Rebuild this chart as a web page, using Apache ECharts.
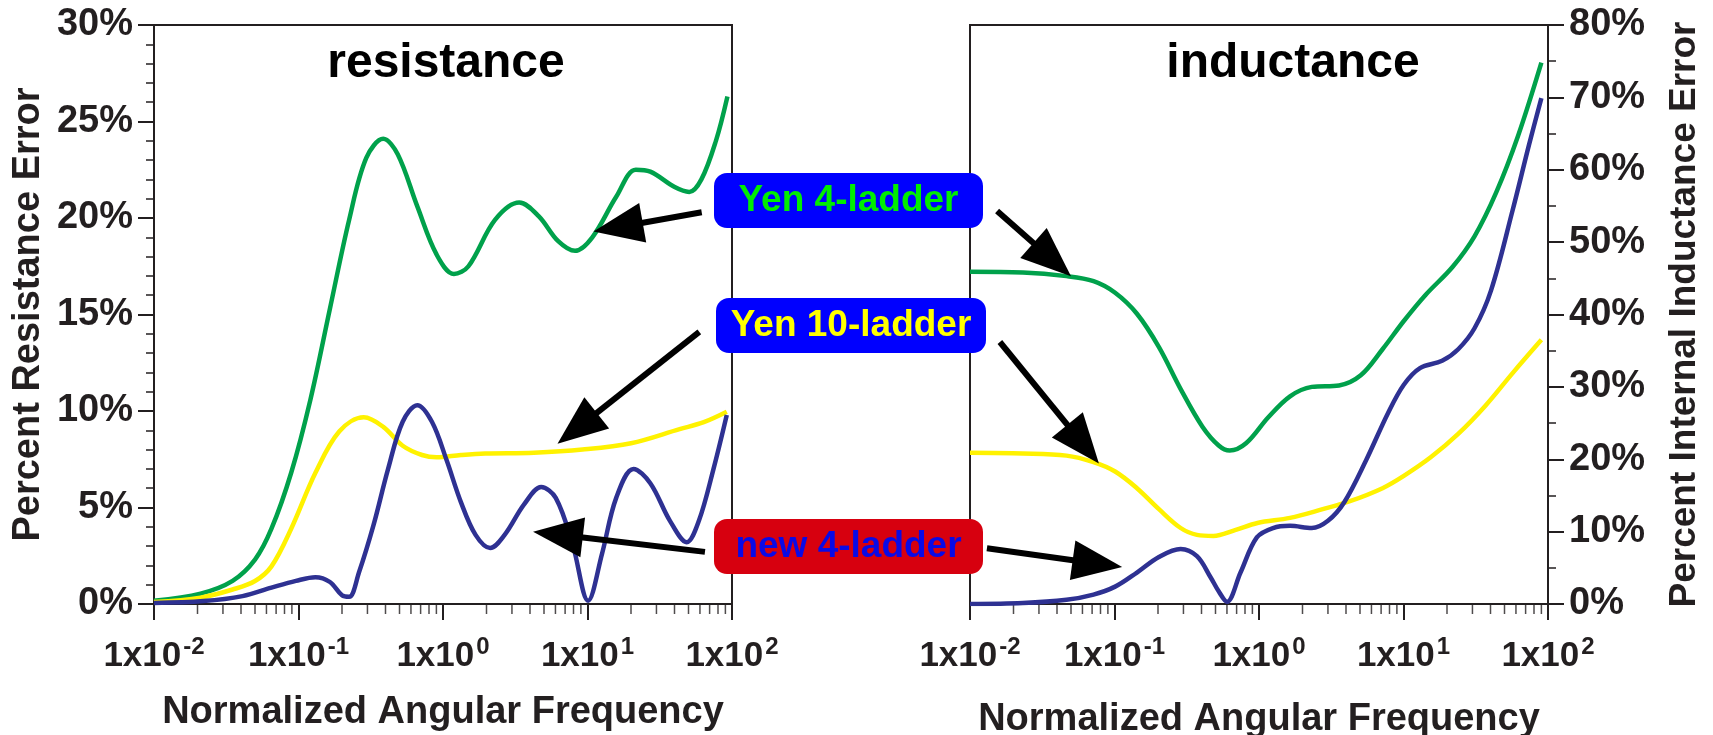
<!DOCTYPE html>
<html><head><meta charset="utf-8">
<script src="https://cdn.jsdelivr.net/npm/echarts@6/dist/echarts.min.js"></script>
<style>html,body{margin:0;padding:0;background:#fff}#c{width:1713px;height:735px}</style>
</head><body><div id="c"></div>
<script>
// ---- resistance panel (x = normalized angular frequency, y = % error)
const rGreenF = [0.01,0.021,0.035,0.05,0.065,0.089,0.121,0.165,0.224,0.294,0.386,0.486,0.664,0.904,1.19,1.5,2.29,3.37,4.59,6.27,8.2,10.8,15.8,21.6,27.2,40.1,50.6,61.4,77.4,93];
const rGreenV = [0.17,0.54,1.2,2.3,3.9,6.8,10.6,15.3,19.9,23.1,24.1,23.3,20.6,18.1,17.1,17.5,19.9,20.8,20.1,18.8,18.3,19.0,21.1,22.5,22.4,21.6,21.35,22.0,24.0,26.3];
const rYellowF = [0.01,0.021,0.035,0.05,0.065,0.089,0.131,0.192,0.283,0.386,0.526,0.716,0.904,1.33,1.96,4.26,9.23,20,43.4,63.8,92];
const rYellowV = [0.1,0.33,0.75,1.19,1.95,3.9,6.8,8.95,9.67,9.18,8.2,7.72,7.6,7.72,7.8,7.84,8.0,8.33,9.06,9.42,9.96];
const rNavyF = [0.01,0.022,0.041,0.065,0.096,0.131,0.165,0.2,0.224,0.262,0.33,0.417,0.526,0.664,0.838,1.057,1.33,1.68,2.12,2.67,3.64,4.78,6.03,7.89,10.1,12.6,15.8,20.8,27.2,37.2,48.6,59,74.5,92];
const rNavyV = [0.05,0.15,0.41,0.85,1.2,1.39,1.14,0.45,0.37,1.63,4.07,7.0,9.44,10.3,9.44,7.47,5.28,3.58,2.9,3.58,5.16,6.06,5.5,3.09,0.17,2.6,5.5,7.0,6.26,4.31,3.2,4.31,7.0,9.79];
// ---- inductance panel
const lGreenF = [0.01,0.0232,0.0465,0.0716,0.101,0.143,0.203,0.287,0.406,0.526,0.627,0.813,1.16,1.64,2.32,3.58,5.06,7.16,10.05,14.2,21.9,31,43.9,62.1,90];
const lGreenV = [45.9,45.8,45.3,44.6,43.0,40.1,35.5,29.7,24.5,21.9,21.2,22.2,25.8,28.7,30.0,30.2,31.6,35.2,39.1,42.7,46.6,50.8,56.9,64.7,74.8];
const lYellowF = [0.01,0.0232,0.0465,0.0716,0.101,0.143,0.203,0.287,0.372,0.483,0.682,0.975,1.64,2.76,4.26,7.16,10.05,15.5,23.9,36.9,56.9,90];
const lYellowV = [20.9,20.8,20.5,19.6,18.3,16.0,13.1,10.5,9.55,9.4,10.2,11.2,11.9,13.1,14.2,16.0,17.7,20.3,23.5,27.4,31.9,36.5];
const lNavyF = [0.01,0.0232,0.0465,0.0716,0.101,0.143,0.203,0.287,0.372,0.462,0.526,0.6,0.745,0.966,1.25,1.64,2.32,3.0,3.9,5.52,7.82,10.05,13,18.5,23.9,31,40.3,56.9,73.8,90];
const lNavyV = [0.0,0.13,0.58,1.3,2.4,4.35,6.5,7.6,6.6,3.7,1.75,0.3,4.35,9.2,10.5,10.8,10.5,11.5,14.1,19.9,26.4,30.3,32.6,33.6,35.2,38.1,43.3,54.4,63.4,69.9];
// ---- axes / ticks
const xTickExp = {'0.01':'-2','0.1':'-1','1':'0','10':'1','100':'2'};
const xMinorTicks = [0.02,0.03,0.04,0.05,0.06,0.07,0.08,0.09,0.2,0.3,0.4,0.5,0.6,0.7,0.8,0.9,2,3,4,5,6,7,8,9,20,30,40,50,60,70,80,90];
const panelTitles = ['resistance','inductance'];
const yTitles = ['Percent Resistance Error','Percent Internal Inductance Error'];
const xTitle = 'Normalized Angular Frequency';
const legendLabels = ['Yen 4-ladder','Yen 10-ladder','new 4-ladder'];
// arrows: [panel, tail f, tail %, tip f, tip %]
const arrows = [
  [0, 61.7, 20.3, 11.0, 19.3],
  [0, 59.4, 14.1, 6.2, 8.3],
  [0, 65, 2.7, 4.2, 3.75],
  [1, 0.0154, 54.3, 0.05, 45.3],
  [1, 0.0161, 36.2, 0.078, 19.4],
  [1, 0.0131, 7.7, 0.113, 5.1]
];

const FONT = '"Liberation Sans", Arial, Helvetica, sans-serif';
const INK = '#231f20';
const GREEN = '#00a14b', YELLOW = '#fff200', NAVY = '#2e3192';
const zip = (a, b) => a.map((v, i) => [v, b[i]]);

const chart = echarts.init(document.getElementById('c'), null, {renderer: 'canvas'});

function xAxis(g, gap) {
  return {
    type: 'log', logBase: 10, gridIndex: g, min: 0.01, max: 100,
    axisLine: {show: true, lineStyle: {color: INK, width: 2}},
    axisTick: {show: true, length: 16, lineStyle: {color: INK, width: 2}},
    minorTick: {show: false},
    splitLine: {show: false},
    axisLabel: {
      margin: 31,
      formatter: v => {
        const k = String(+v.toPrecision(3));
        return '{b|1x10}{s|' + (xTickExp[k] !== undefined ? xTickExp[k] : '') + '}';
      },
      rich: {
        b: {fontSize: 35, fontWeight: 'bold', fontFamily: FONT, color: INK, lineHeight: 42},
        s: {fontSize: 24, fontWeight: 'bold', fontFamily: FONT, color: INK, lineHeight: 19, verticalAlign: 'top', padding: [0, 0, 0, 2]}
      }
    },
    name: xTitle, nameLocation: 'middle', nameGap: gap,
    nameTextStyle: {fontSize: 38, fontWeight: 'bold', fontFamily: FONT, color: INK}
  };
}
function yAxis(g, max, interval, split, pos, gap, nameSize) {
  return {
    type: 'value', gridIndex: g, min: 0, max: max, interval: interval, position: pos,
    axisLine: {show: true, lineStyle: {color: INK, width: 2}},
    axisTick: {show: true, length: 16, lineStyle: {color: INK, width: 2}},
    minorTick: {show: true, splitNumber: split, length: 8, lineStyle: {color: INK, width: 1.5}},
    splitLine: {show: false},
    axisLabel: {margin: 21, formatter: v => v + '%', fontSize: 38, fontWeight: 'bold', fontFamily: FONT, color: INK},
    name: yTitles[g], nameLocation: 'middle', nameGap: gap, nameRotate: 90,
    nameTextStyle: {fontSize: nameSize, fontWeight: 'bold', fontFamily: FONT, color: INK}
  };
}
function line(name, g, data, color) {
  return {
    type: 'line', name: name, xAxisIndex: g, yAxisIndex: g, data: data,
    showSymbol: false, smooth: 0.35, lineStyle: {color: color, width: 4.5}, z: 3, silent: true
  };
}
function minor(g) {
  return {
    type: 'scatter', xAxisIndex: g, yAxisIndex: g, data: xMinorTicks.map(v => [v, 0]),
    symbol: 'rect', symbolSize: [1.5, 9], symbolOffset: [0, 5.5], clip: false, silent: true,
    itemStyle: {color: INK}, z: 1
  };
}

chart.setOption({
  animation: false,
  backgroundColor: '#fff',
  grid: [
    {left: 154, top: 25, width: 578, height: 579, show: true, borderColor: INK, borderWidth: 2, outerBoundsMode: 'none'},
    {left: 970, top: 25, width: 578, height: 579, show: true, borderColor: INK, borderWidth: 2, outerBoundsMode: 'none'}
  ],
  xAxis: [xAxis(0, 90), xAxis(1, 97)],
  yAxis: [yAxis(0, 30, 5, 5, 'left', 106, 38), yAxis(1, 80, 10, 2, 'right', 118, 37)],
  series: [
    line(legendLabels[0], 0, zip(rGreenF, rGreenV), GREEN),
    line(legendLabels[1], 0, zip(rYellowF, rYellowV), YELLOW),
    line(legendLabels[2], 0, zip(rNavyF, rNavyV), NAVY),
    line(legendLabels[0], 1, zip(lGreenF, lGreenV), GREEN),
    line(legendLabels[1], 1, zip(lYellowF, lYellowV), YELLOW),
    line(legendLabels[2], 1, zip(lNavyF, lNavyV), NAVY),
    minor(0), minor(1)
  ]
});

const gfx = [];
// panel titles
gfx.push({type: 'text', x: 446, y: 64, z: 50, style: {text: panelTitles[0], font: 'bold 48px ' + FONT, fill: '#000', align: 'center', verticalAlign: 'middle'}});
gfx.push({type: 'text', x: 1293, y: 64, z: 50, style: {text: panelTitles[1], font: 'bold 48px ' + FONT, fill: '#000', align: 'center', verticalAlign: 'middle'}});
// arrows
arrows.forEach(a => {
  const S = chart.convertToPixel({xAxisIndex: a[0], yAxisIndex: a[0]}, [a[1], a[2]]);
  const T = chart.convertToPixel({xAxisIndex: a[0], yAxisIndex: a[0]}, [a[3], a[4]]);
  const dx = T[0] - S[0], dy = T[1] - S[1], L = Math.hypot(dx, dy);
  const ux = dx / L, uy = dy / L, nx = -uy, ny = ux;
  const HL = 50, HW = 40;
  const B = [T[0] - ux * HL, T[1] - uy * HL];
  gfx.push({type: 'line', z: 60, shape: {x1: S[0], y1: S[1], x2: B[0] + ux * 4, y2: B[1] + uy * 4}, style: {stroke: '#000', lineWidth: 6}});
  gfx.push({type: 'polygon', z: 60, shape: {points: [T, [B[0] + nx * HW / 2, B[1] + ny * HW / 2], [B[0] - nx * HW / 2, B[1] - ny * HW / 2]]}, style: {fill: '#000'}});
});
// label boxes
const boxes = [
  {x: 714, y: 173, w: 269, h: 55, fill: '#0000ff', color: '#00ee00', text: legendLabels[0]},
  {x: 716, y: 298, w: 270, h: 55, fill: '#0000ff', color: '#ffff00', text: legendLabels[1]},
  {x: 714, y: 519, w: 269, h: 55, fill: '#d7000f', color: '#0a0ae6', text: legendLabels[2]}
];
boxes.forEach(b => {
  gfx.push({type: 'rect', z: 70, shape: {x: b.x, y: b.y, width: b.w, height: b.h, r: 13}, style: {fill: b.fill}});
  gfx.push({type: 'text', z: 71, x: b.x + b.w / 2, y: b.y + b.h / 2, style: {text: b.text, font: 'bold 37px ' + FONT, fill: b.color, align: 'center', verticalAlign: 'middle'}});
});
chart.setOption({graphic: {elements: gfx}});
</script></body></html>
